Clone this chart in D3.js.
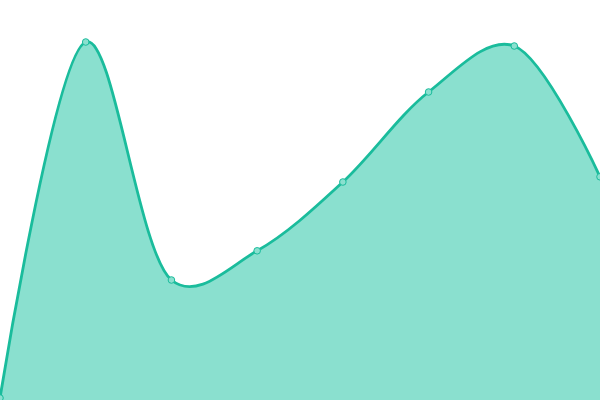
<!DOCTYPE html>
<html lang="en">
<head>
<meta charset="utf-8">
<title>Smooth area</title>
<script src="https://cdn.jsdelivr.net/npm/d3@7"></script>
<style>
  body { margin: 0; background: #fff; }
  .area { fill: #8ae0cf; }
  .line { fill: none; stroke: #1abc9c; stroke-width: 2.8; }
  .dot { fill: #8ae0cf; stroke: #1abc9c; stroke-width: 1; }
</style>
</head>
<body>
<script>
// data
var categories = ["A", "B", "C", "D", "E", "F", "G", "H"];
var values = [0.5, 89.5, 30, 37.3, 54.5, 77, 88.5, 55.8];

var w = 600, h = 400;

var svg = d3.select("body").append("svg")
    .attr("width", w)
    .attr("height", h);

var x = d3.scalePoint().domain(categories).range([0, w]);
var y = d3.scaleLinear().domain([0, 100]).range([h, 0]);

var data = categories.map(function(c, i) { return [c, values[i]]; });

var curve = d3.curveCatmullRom.alpha(0.25);

var area = d3.area()
    .x(function(d) { return x(d[0]); })
    .y0(h)
    .y1(function(d) { return y(d[1]); })
    .curve(curve);

var line = d3.line()
    .x(function(d) { return x(d[0]); })
    .y(function(d) { return y(d[1]); })
    .curve(curve);

svg.append("path").datum(data).attr("class", "area").attr("d", area);
svg.append("path").datum(data).attr("class", "line").attr("d", line);

svg.selectAll(".dot")
    .data(data)
    .enter()
    .append("circle")
    .attr("class", "dot")
    .attr("cx", function(d) { return x(d[0]); })
    .attr("cy", function(d) { return y(d[1]); })
    .attr("r", 3.3);
</script>
</body>
</html>
